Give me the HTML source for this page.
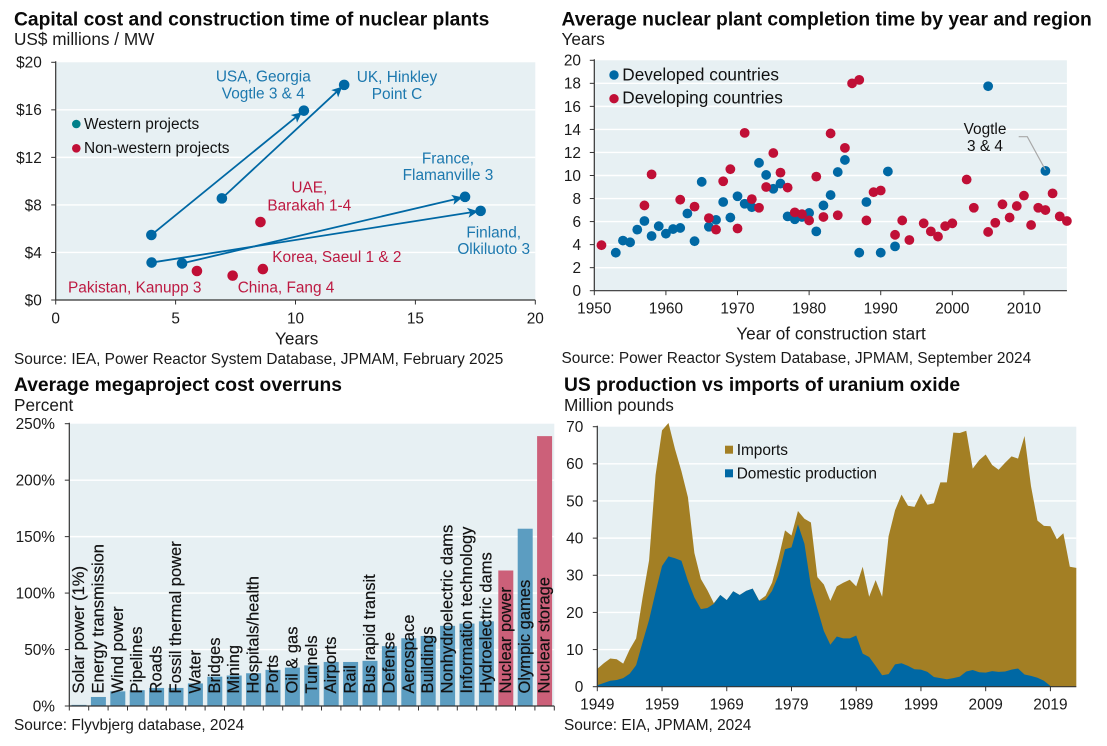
<!DOCTYPE html>
<html lang="en">
<head>
<meta charset="utf-8">
<title>Nuclear power charts</title>
<style>
html,body{margin:0;padding:0;background:#fff;}
svg{display:block;font-family:"Liberation Sans",Arial,sans-serif;fill:#111;}
.title{font-size:19.27px;font-weight:700;fill:#0a0a0a;}
.sub{font-size:17.2px;fill:#1a1a1a;}
.src{font-size:15.4px;fill:#1a1a1a;}
.tick{font-size:15.4px;fill:#1a1a1a;}
.axt{font-size:17.2px;fill:#1a1a1a;}
.leg{font-size:15.4px;fill:#111;}
.leg2{font-size:17.2px;fill:#111;}
.blue{font-size:15.4px;fill:#1c78ae;}
.red{font-size:15.4px;fill:#bd1a42;}
.note{font-size:15.4px;fill:#111;}
.barlab{font-size:16.5px;fill:#111;stroke:#111;stroke-width:0.2px;}
</style>
</head>
<body>
<svg id="root" xmlns="http://www.w3.org/2000/svg" width="1107" height="746" viewBox="0 0 1107 746">
  <g id="c1">
    <text class="title" x="14" y="25.3">Capital cost and construction time of nuclear plants</text>
    <text class="sub" x="14" y="45">US$ millions / MW</text>
    <text class="axt" x="296.7" y="344.7" text-anchor="middle">Years</text>
    <text class="src" x="14" y="364">Source: IEA, Power Reactor System Database, JPMAM, February 2025</text>
    <g id="c1marks"></g>
    <text class="leg" x="84" y="129">Western projects</text>
    <text class="leg" x="84" y="153">Non-western projects</text>
    <text class="blue" x="263.3" y="81.7" text-anchor="middle">USA, Georgia</text>
    <text class="blue" x="263.3" y="98.7" text-anchor="middle">Vogtle 3 &amp; 4</text>
    <text class="blue" x="397" y="82" text-anchor="middle">UK, Hinkley</text>
    <text class="blue" x="397" y="99" text-anchor="middle">Point C</text>
    <text class="blue" x="448" y="163.3" text-anchor="middle">France,</text>
    <text class="blue" x="448" y="180" text-anchor="middle">Flamanville 3</text>
    <text class="blue" x="493.7" y="237.3" text-anchor="middle">Finland,</text>
    <text class="blue" x="493.7" y="254" text-anchor="middle">Olkiluoto 3</text>
    <text class="red" x="309.3" y="192.7" text-anchor="middle">UAE,</text>
    <text class="red" x="309.3" y="210.3" text-anchor="middle">Barakah 1-4</text>
    <text class="red" x="272.3" y="262">Korea, Saeul 1 &amp; 2</text>
    <text class="red" x="68" y="292.3">Pakistan, Kanupp 3</text>
    <text class="red" x="237.7" y="292.3">China, Fang 4</text>
  </g>
  <g id="c2">
    <text class="title" x="561.5" y="25.3">Average nuclear plant completion time by year and region</text>
    <text class="sub" x="561.5" y="45">Years</text>
    <text class="axt" x="831" y="339.3" text-anchor="middle">Year of construction start</text>
    <text class="src" x="561.5" y="363">Source: Power Reactor System Database, JPMAM, September 2024</text>
    <g id="c2marks"></g>
    <text class="leg2" x="622.3" y="80.7">Developed countries</text>
    <text class="leg2" x="622.3" y="103.5">Developing countries</text>
    <text class="note" x="985" y="134" text-anchor="middle">Vogtle</text>
    <text class="note" x="985" y="151" text-anchor="middle">3 &amp; 4</text>
  </g>
  <g id="c3">
    <text class="title" x="14" y="391">Average megaproject cost overruns</text>
    <text class="sub" x="14" y="411">Percent</text>
    <text class="src" x="14" y="730">Source: Flyvbjerg database, 2024</text>
    <g id="c3marks"></g>
  </g>
  <g id="c4">
    <text class="title" x="564" y="391">US production vs imports of uranium oxide</text>
    <text class="sub" x="564" y="411">Million pounds</text>
    <text class="src" x="564" y="730">Source: EIA, JPMAM, 2024</text>
    <g id="c4marks"></g>
    <rect x="725" y="445.7" width="8" height="8" fill="#a37f24"></rect>
    <text class="leg" x="736.7" y="455">Imports</text>
    <rect x="725" y="469.3" width="8" height="8" fill="#0068a4"></rect>
    <text class="leg" x="736.7" y="478.3">Domestic production</text>
  </g>
</svg>
<script>
// ---------- Chart 1 data ----------
var c1XTicks = [0, 5, 10, 15, 20];
var c1YTicks = [0, 4, 8, 12, 16, 20];
var projectStartYears = [3.99, 6.93, 5.27, 4.0];
var projectStartCosts = [5.47, 8.55, 3.08, 3.15];
var projectEndYears = [10.35, 12.03, 17.07, 17.72];
var projectEndCosts = [15.93, 18.1, 8.68, 7.5];
var nonWesternYears = [5.89, 7.38, 8.64, 8.54];
var nonWesternCosts = [2.44, 2.05, 2.6, 6.56];

// ---------- Chart 2 data ----------
var c2XTicks = [1950, 1960, 1970, 1980, 1990, 2000, 2010];
var c2YTicks = [0, 2, 4, 6, 8, 10, 12, 14, 16, 18, 20];
var developedYears = [1953,1954,1955,1956,1957,1958,1959,1960,1961,1962,1963,1964,1965,1966,1967,1968,1969,1970,1971,1972,1973,1974,1975,1976,1977,1978,1979,1980,1981,1982,1983,1984,1985,1987,1988,1990,1991,1992,2005,2013];
var developedValues = [3.3,4.35,4.2,5.3,6.05,4.75,5.6,4.95,5.35,5.45,6.7,4.3,9.45,5.55,6.15,7.7,6.35,8.2,7.55,7.25,11.1,10.05,8.85,9.3,6.45,6.2,6.4,6.75,5.15,7.4,8.3,10.3,11.35,3.3,7.7,3.3,10.35,3.85,17.75,10.4];
var developingYears = [1951,1957,1958,1962,1964,1966,1967,1968,1969,1970,1971,1972,1973,1974,1975,1976,1977,1978,1979,1980,1981,1982,1983,1984,1985,1986,1987,1988,1989,1990,1992,1993,1994,1996,1997,1998,1999,2000,2002,2003,2005,2006,2007,2008,2009,2010,2011,2012,2013,2014,2015,2016];
var developingValues = [3.95,7.4,10.1,7.9,7.3,6.3,5.3,9.5,10.55,5.4,13.7,7.95,7.2,9,11.95,10.25,8.95,6.8,6.65,6.1,9.9,6.4,13.65,6.55,12.4,18,18.3,6.1,8.55,8.7,4.85,6.1,4.4,5.85,5.15,4.7,5.6,5.85,9.65,7.2,5.1,5.9,7.5,6.35,7.35,8.25,5.7,7.2,7,8.45,6.45,6.05];

// ---------- Chart 3 data ----------
var c3YTicks = [0, 50, 100, 150, 200, 250];
var megaCategories = ["Solar power (1%)","Energy transmission","Wind power","Pipelines","Roads","Fossil thermal power","Water","Bridges","Mining","Hospitals/health","Ports","Oil & gas","Tunnels","Airports","Rail","Bus rapid transit","Defense","Aerospace","Buildings","Nonhydroelectric dams","Information technology","Hydroelectric dams","Nuclear power","Olympic games","Nuclear storage"];
var megaOverruns = [1,8,13,14,16,16,20,26,27,29,32,34,36,39,39,40,53,60,62,71,73,75,120,157,239];
var nuclearCategories = ["Nuclear power","Nuclear storage"];

// ---------- Chart 4 data ----------
var c4FirstYear = 1949;
var c4XTicks = [1949,1959,1969,1979,1989,1999,2009,2019];
var c4YTicks = [0,10,20,30,40,50,60,70];
var domesticProduction = [0.4,1,1.6,1.8,2.3,3.5,5.8,12,18,25.5,32.5,35.1,34.6,33.9,28.5,24,20.9,21.2,22.3,24.7,23.3,25.7,24.7,25.8,26.4,23.1,23.4,25.8,30,37,37.5,43.7,38.5,27,21,15,11.3,13.5,13,13,13.8,8.9,8,5.6,3.1,3.4,6,6.3,5.6,4.7,4.6,4,2.6,2.3,2,2.3,2.7,4.1,4.5,3.9,3.8,4.2,4,4.1,4.6,4.9,3.3,2.9,2.4,1.6,0.2,0,0,0,0];
var totalSupply = [4.8,6.3,7.6,7.4,6.2,10,13,24,34,57,69,71,64,58,51,36,29,26,22.5,24.7,23.3,25.7,24.7,25.8,26.4,23.2,24.5,28,34.5,42.1,40.7,47.3,45.2,44.2,29.5,27.5,23.1,27,28,28.8,27,32.3,24.2,28.7,24.2,40.5,47.5,51.7,48.7,48.4,52,49,49.4,55,55,68.4,68.3,68.9,58.7,61,62.5,59.7,58.4,60.3,62,61.4,67.5,54,44.7,43.3,43.2,39.7,41.3,32.3,32];

// ---------- Helpers ----------
var NS = 'http://www.w3.org/2000/svg';
var BG = '#e7f0f3', AXIS = '#333333', BLUE = '#0068a4', RED = '#c00f36', GOLD = '#a37f24';
function mk(parent, tag, attrs, txt) {
  var n = document.createElementNS(NS, tag);
  for (var k in attrs) n.setAttribute(k, attrs[k]);
  if (txt !== undefined) n.textContent = txt;
  parent.appendChild(n);
  return n;
}
function linear(d0, d1, r0, r1) {
  return function (v) { return r0 + (v - d0) * (r1 - r0) / (d1 - d0); };
}
function frame(g, box, yTicks, yFn, prefix) {
  var bg = mk(g, 'rect', {x: box.l, y: box.t, width: box.r - box.l, height: box.b - box.t, fill: BG});
  
  
  yTicks.forEach(function (v) {
    var y = yFn(v);
    if (v !== yTicks[0] && v !== yTicks[yTicks.length - 1]) {
      var gl = mk(g, 'line', {x1: box.l, x2: box.r, y1: y, y2: y, stroke: '#fff', 'stroke-width': 1.4});
      
      
    }
  });
}
function axes(g, box, yTicks, yFn, fmtY, labelRight, prefix) {
  var ya = mk(g, 'line', {x1: box.l, x2: box.l, y1: box.t - 1, y2: box.b, stroke: AXIS, 'stroke-width': 1.2});
  
  
  var xa = mk(g, 'line', {x1: box.l, x2: box.r, y1: box.b, y2: box.b, stroke: AXIS, 'stroke-width': 1.2});
  
  
  yTicks.forEach(function (v) {
    var y = yFn(v);
    var tk = mk(g, 'line', {x1: box.l - 4.5, x2: box.l, y1: y, y2: y, stroke: AXIS, 'stroke-width': 1});
    
    
    var lb = mk(g, 'text', {x: labelRight, y: y + 5.4, 'text-anchor': 'end', 'class': 'tick'}, fmtY(v));
    
    
  });
}
function xTickMarks(g, box, xs, xFn, baseline, prefix) {
  xs.forEach(function (v) {
    var x = xFn(v);
    var tk = mk(g, 'line', {x1: x, x2: x, y1: box.b, y2: box.b + 4.5, stroke: AXIS, 'stroke-width': 1});
    
    
    var lb = mk(g, 'text', {x: x, y: baseline, 'text-anchor': 'middle', 'class': 'tick'}, String(v));
    
    
  });
}

// ---------- Chart 1 ----------
(function () {
  var g = document.getElementById('c1marks');
  var box = {l: 55.7, r: 535.3, t: 62.3, b: 300};
  var X = linear(0, 20, box.l, box.r), Y = linear(0, 20, box.b, box.t);
  var fmt = function (v) { return '$' + v; };
  frame(g, box, c1YTicks, Y, 'capital-cost');
  axes(g, box, c1YTicks, Y, fmt, 41.8, 'capital-cost');
  xTickMarks(g, box, c1XTicks, X, 323.7, 'capital-cost');
  projectStartYears.forEach(function (_, i) {
    var x0 = X(projectStartYears[i]), y0 = Y(projectStartCosts[i]);
    var x1 = X(projectEndYears[i]), y1 = Y(projectEndCosts[i]);
    var dx = x1 - x0, dy = y1 - y0, L = Math.sqrt(dx * dx + dy * dy), ux = dx / L, uy = dy / L;
    var line = mk(g, 'line', {x1: x0, y1: y0, x2: x1 - ux * 6, y2: y1 - uy * 6, stroke: BLUE, 'stroke-width': 1.8});
    
    
    var tx = x1 - ux * 2.5, ty = y1 - uy * 2.5, bx = x1 - ux * 13, by = y1 - uy * 13, nx = x1 - ux * 10.5, ny = y1 - uy * 10.5;
    var pts = [[tx, ty], [bx - uy * 5, by + ux * 5], [nx, ny], [bx + uy * 5, by - ux * 5]]
      .map(function (p) { return p[0].toFixed(1) + ',' + p[1].toFixed(1); }).join(' ');
    var head = mk(g, 'polygon', {points: pts, fill: BLUE});
    
    
    var a = mk(g, 'circle', {cx: x0, cy: y0, r: 5.3, fill: BLUE});
    
    
    var b = mk(g, 'circle', {cx: x1, cy: y1, r: 5.3, fill: BLUE});
    
    
  });
  nonWesternYears.forEach(function (v, i) {
    var c = mk(g, 'circle', {cx: X(v), cy: Y(nonWesternCosts[i]), r: 5.3, fill: RED});
    
    
  });
  var l1 = mk(g, 'circle', {cx: 76.3, cy: 124, r: 4.3, fill: '#00808a'});
  
  
  var l2 = mk(g, 'circle', {cx: 76.3, cy: 148.3, r: 4.3, fill: RED});
  
  
})();

// ---------- Chart 2 ----------
(function () {
  var g = document.getElementById('c2marks');
  var box = {l: 594.3, r: 1066.9, t: 60.3, b: 290.7};
  var X = linear(1950, 2016, box.l, box.r), Y = linear(0, 20, box.b, box.t);
  var fmt = function (v) { return String(v); };
  frame(g, box, c2YTicks, Y, 'completion-time');
  axes(g, box, c2YTicks, Y, fmt, 581, 'completion-time');
  xTickMarks(g, box, c2XTicks, X, 313.5, 'completion-time');
  developedYears.forEach(function (v, i) {
    var c = mk(g, 'circle', {cx: X(v), cy: Y(developedValues[i]), r: 4.9, fill: BLUE});
    
    
  });
  developingYears.forEach(function (v, i) {
    var c = mk(g, 'circle', {cx: X(v), cy: Y(developingValues[i]), r: 4.9, fill: RED});
    
    
  });
  var leader = mk(g, 'polyline', {points: '1018.7,136.7 1027.3,136.7 ' + X(2013) + ',' + (Y(10.4) - 1), fill: 'none', stroke: '#a8a8a8', 'stroke-width': 1.2});
  
  
  var l1 = mk(g, 'circle', {cx: 614, cy: 75, r: 4.7, fill: BLUE});
  
  
  var l2 = mk(g, 'circle', {cx: 614, cy: 98.7, r: 4.7, fill: RED});
  
  
})();

// ---------- Chart 3 ----------
(function () {
  var g = document.getElementById('c3marks');
  var box = {l: 69.3, r: 554.3, t: 423.7, b: 706};
  var Y = linear(0, 250, box.b, box.t);
  var step = (box.r - box.l) / megaCategories.length;
  var fmt = function (v) { return v + '%'; };
  frame(g, box, c3YTicks, Y, 'cost-overrun');
  megaCategories.forEach(function (name, i) {
    var cx = box.l + (i + 0.5) * step, top = Y(megaOverruns[i]);
    var isNuke = nuclearCategories.indexOf(name) >= 0;
    var b = mk(g, 'rect', {x: cx - 7.5, y: top, width: 15, height: box.b - top, fill: isNuke ? '#cc6079' : '#5c9dc1'});
    
    
  });
  axes(g, box, c3YTicks, Y, fmt, 55, 'cost-overrun');
  for (var j = 0; j <= megaCategories.length; j++) {
    var tx = box.l + j * step;
    var t = mk(g, 'line', {x1: tx, x2: tx, y1: box.b, y2: box.b + 4.5, stroke: AXIS, 'stroke-width': 1});
    
    
  }
  megaCategories.forEach(function (name, i) {
    var cx = box.l + (i + 0.5) * step + 5;
    var lab = mk(g, 'text', {x: 0, y: 0, 'class': 'barlab', transform: 'translate(' + cx.toFixed(1) + ',693.5) rotate(-90)'}, name);
    
    
  });
})();

// ---------- Chart 4 ----------
(function () {
  var g = document.getElementById('c4marks');
  var box = {l: 597.3, r: 1076.3, t: 426.7, b: 686.7};
  var lastYear = c4FirstYear + totalSupply.length - 1;
  var X = linear(c4FirstYear, lastYear, box.l, box.r), Y = linear(0, 70, box.b, box.t);
  var fmt = function (v) { return String(v); };
  frame(g, box, c4YTicks, Y, 'uranium');
  function area(values) {
    var d = 'M' + X(c4FirstYear) + ',' + Y(0);
    values.forEach(function (v, i) { d += ' L' + X(c4FirstYear + i).toFixed(2) + ',' + Y(v).toFixed(2); });
    return d + ' L' + X(lastYear) + ',' + Y(0) + ' Z';
  }
  var a1 = mk(g, 'path', {d: area(totalSupply), fill: GOLD});
  
  
  var a2 = mk(g, 'path', {d: area(domesticProduction), fill: BLUE});
  
  
  axes(g, box, c4YTicks, Y, fmt, 583.3, 'uranium');
  xTickMarks(g, box, c4XTicks, X, 709.7, 'uranium');
})();
</script>
</body>
</html>
